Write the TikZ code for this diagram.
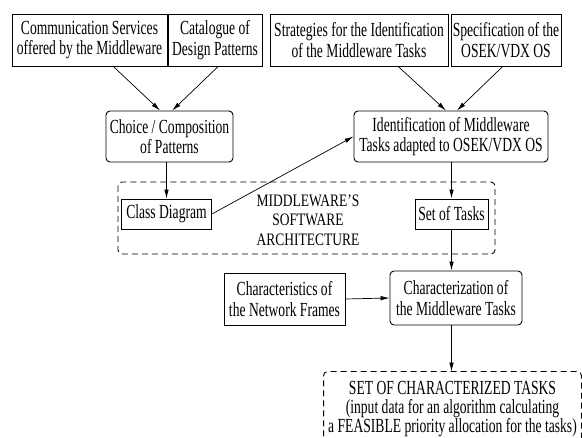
\documentclass[tikz,border=0pt]{standalone}
\usepackage{fontspec}
\setmainfont{Liberation Serif}[FakeStretch=0.68]
\usetikzlibrary{arrows.meta}

\begin{document}
\begin{tikzpicture}[x=1pt,y=-1pt,>={Latex[length=9pt,width=4.5pt]},
    box/.style={draw,line width=0.9pt,inner sep=0pt,align=center,font=\fontsize{20}{20.5}\selectfont},
    rbox/.style={box,rounded corners=4pt},
    dbox/.style={draw,line width=0.9pt,dash pattern=on 6pt off 4pt,rounded corners=4pt},
    conn/.style={->,line width=0.7pt},
    caps/.style={inner sep=0pt,align=center,font=\addfontfeature{FakeStretch=0.77}\fontsize{17.5}{19.5}\selectfont}]
        \clip (0,0) rectangle (582,438);
        \fill[white] (0,0) rectangle (582,438);

        \node[box, minimum width=155pt, minimum height=52pt] (comm) at (89.5,40) {Communication Services\\offered by the Middleware};
        \node[box, minimum width=94pt, minimum height=52pt] (catal) at (215,40) {Catalogue of\\Design Patterns};
        \node[box, minimum width=178pt, minimum height=52pt] (strat) at (359,40) {Strategies for the Identification\\of the Middleware Tasks};
        \node[box, minimum width=110pt, minimum height=52pt] (spec) at (506,40) {Specification of the\\OSEK/VDX OS};

        \node[rbox, minimum width=127pt, minimum height=51pt] (choice) at (169.5,136.5) {Choice / Composition\\of Patterns};
        \node[rbox, minimum width=194pt, minimum height=51pt] (ident) at (451,136.5) {Identification of Middleware\\Tasks adapted to OSEK/VDX OS};

        \draw[dbox] (118,182) rectangle (495,254);
        \node[box, minimum width=90pt, minimum height=30pt] (classd) at (166.5,214) {Class Diagram};
        \node[box, minimum width=73pt, minimum height=30pt] (tasks) at (451.5,214) {Set of Tasks};
        \node[caps] (arch) at (308,220) {MIDDLEWARE'S\\SOFTWARE\\ARCHITECTURE};

        \node[box, minimum width=121pt, minimum height=52pt] (netfr) at (284.5,299) {Characteristics of\\the Network Frames};
        \node[rbox, minimum width=132pt, minimum height=54pt] (charz) at (456,298) {Characterization of\\the Middleware Tasks};

        \node[box, draw=none, minimum width=257pt, minimum height=74pt, font=\fontsize{20}{19}\selectfont] (result) at (452.5,409) {SET OF CHARACTERIZED TASKS\\(input data for an algorithm calculating\\a FEASIBLE priority allocation for the tasks)};
        \draw[dbox] (result.south west) -- (result.north west) -- (result.north east) -- (result.south east);

        \draw[conn] (comm.-48) -- (choice.110);
        \draw[conn] (catal.-83) -- (choice.84);
        \draw[conn] (strat.-34) -- (ident.101);
        \draw[conn] (spec.-97) -- (ident.77);

        \draw[conn] (choice.south -| classd.north) -- (classd.north);
        \draw[conn] (classd.east) -- (ident.west);
        \draw[conn] (ident.south -| tasks.north) -- (tasks.north);
        \draw[conn] (tasks.south) -- (tasks.south |- charz.north);
        \draw[conn] (netfr.east) -- (charz.west);
        \draw[conn] (charz.south -| tasks.south) -- (result.north -| tasks.south);
    \end{tikzpicture}
\end{document}
